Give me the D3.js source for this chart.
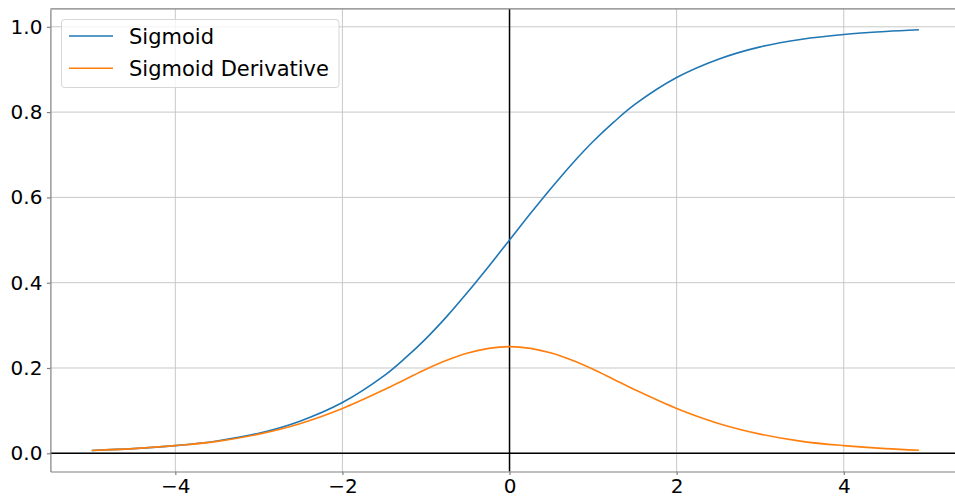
<!DOCTYPE html>
<html>
<head>
<meta charset="utf-8">
<script src="https://cdn.jsdelivr.net/npm/d3@7"></script>
<style>
  html, body { margin: 0; padding: 0; background: #fff; }
  svg { display: block; font-family: "DejaVu Sans", sans-serif; }
</style>
</head>
<body>
<svg id="chart" width="955" height="498"></svg>
<script>
// Sample positions along the x axis
const xs = [-5, -4.5, -4, -3.5, -3, -2.5, -2, -1.5, -1.25, -1, -0.75, -0.5, -0.25, 0,
            0.25, 0.5, 0.75, 1, 1.25, 1.5, 2, 2.5, 3, 3.5, 4, 4.5, 4.9];
// Sigmoid curve values
const sigmoid = [0.0067, 0.011, 0.018, 0.029, 0.047, 0.076, 0.119, 0.182, 0.223, 0.269, 0.321, 0.378, 0.438, 0.5,
                 0.562, 0.622, 0.679, 0.731, 0.777, 0.818, 0.881, 0.924, 0.953, 0.971, 0.982, 0.989, 0.993];
// Derivative curve values
const derivative = [0.0066, 0.011, 0.018, 0.028, 0.045, 0.070, 0.105, 0.149, 0.173, 0.197, 0.218, 0.235, 0.246, 0.25,
                    0.246, 0.235, 0.218, 0.197, 0.173, 0.149, 0.105, 0.070, 0.045, 0.028, 0.018, 0.011, 0.0073];
const xTicks = [-4, -2, 0, 2, 4];
const yTicks = [0.0, 0.2, 0.4, 0.6, 0.8, 1.0];
const seriesNames = ["Sigmoid", "Sigmoid Derivative"];
const colors = ["#1f77b4", "#ff7f0e"];

const svg = d3.select("#chart");
const plotL = 50.4, plotR = 960.3, plotT = 8.9, plotB = 471.5;

const x = d3.scaleLinear().domain([-5.495, 5.395]).range([plotL, plotR]);
const y = d3.scaleLinear().domain([-0.0427, 1.0420]).range([plotB, plotT]);

const tickFont = 20;
const legendFont = 21;
const spineColor = "#808080";

// Grid
const grid = svg.append("g");
grid.selectAll(".gx").data(xTicks).enter().append("line")
  .attr("x1", d => x(d)).attr("x2", d => x(d))
  .attr("y1", plotT).attr("y2", plotB)
  .attr("stroke", "#c8c8c8").attr("stroke-width", 1);
grid.selectAll(".gy").data(yTicks).enter().append("line")
  .attr("x1", plotL).attr("x2", plotR)
  .attr("y1", d => y(d)).attr("y2", d => y(d))
  .attr("stroke", "#c8c8c8").attr("stroke-width", 1);

// Reference lines through the origin
svg.append("line")
  .attr("x1", plotL).attr("x2", plotR).attr("y1", y(0)).attr("y2", y(0))
  .attr("stroke", "#000").attr("stroke-width", 1.5);
svg.append("line")
  .attr("x1", x(0)).attr("x2", x(0)).attr("y1", plotT).attr("y2", plotB)
  .attr("stroke", "#000").attr("stroke-width", 1.5);

// Curves
const line = d3.line().curve(d3.curveCatmullRom.alpha(0.5));
[sigmoid, derivative].forEach((vals, i) => {
  svg.append("path")
    .attr("d", line(xs.map((v, j) => [x(v), y(vals[j])])))
    .attr("fill", "none")
    .attr("stroke", colors[i])
    .attr("stroke-width", 1.6);
});

// Axes
const fmtY = d3.format(".1f");
const fmtX = d => (d < 0 ? "\u2212" + Math.abs(d) : String(d));
const xAxis = svg.append("g").attr("transform", `translate(0,${plotB})`)
  .call(d3.axisBottom(x).tickValues(xTicks).tickFormat(fmtX).tickSizeInner(3.5).tickSizeOuter(0).tickPadding(3.5));
const yAxis = svg.append("g").attr("transform", `translate(${plotL},0)`)
  .call(d3.axisLeft(y).tickValues(yTicks).tickFormat(fmtY).tickSizeInner(3.5).tickSizeOuter(0).tickPadding(4.5));
[xAxis, yAxis].forEach(g => {
  g.select(".domain").attr("stroke", spineColor).attr("stroke-width", 1.2);
  g.selectAll(".tick line").attr("stroke", spineColor).attr("stroke-width", 1.2);
  g.selectAll(".tick text").attr("fill", "#000")
    .style("font-family", "'DejaVu Sans', sans-serif").style("font-size", tickFont + "px");
});
// upper spine
svg.append("line").attr("x1", plotL).attr("x2", plotR).attr("y1", plotT).attr("y2", plotT)
  .attr("stroke", spineColor).attr("stroke-width", 1.2);

// Legend
const legend = svg.append("g");
legend.append("rect")
  .attr("x", 61.5).attr("y", 19.5).attr("width", 277.5).attr("height", 68)
  .attr("rx", 3).attr("fill", "rgba(255,255,255,0.8)")
  .attr("stroke", "#d6d6d6").attr("stroke-width", 1);
seriesNames.forEach((name, i) => {
  const ly = 36 + i * 32.3;
  legend.append("line").attr("x1", 69).attr("x2", 113).attr("y1", ly).attr("y2", ly)
    .attr("stroke", colors[i]).attr("stroke-width", 1.6);
  legend.append("text").attr("x", 129).attr("y", ly + 8)
    .style("font-size", legendFont + "px").attr("fill", "#000").text(name);
});
</script>
</body>
</html>
